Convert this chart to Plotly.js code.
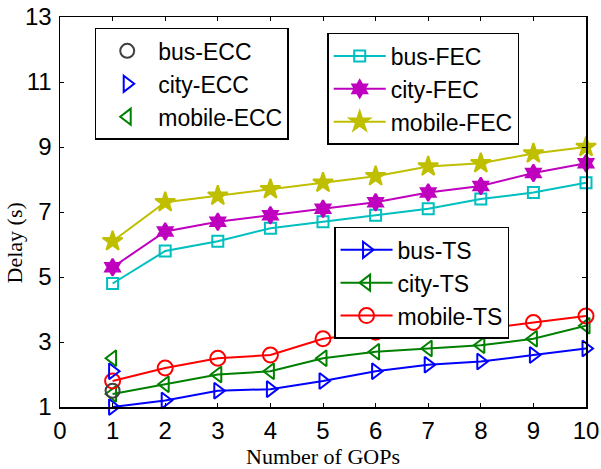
<!DOCTYPE html>
<html>
<head>
<meta charset="utf-8">
<script src="https://cdn.plot.ly/plotly-3.0.1.min.js"></script>
<style>html,body{margin:0;padding:0;background:#fff;}#chart{width:601px;height:469px;}</style>
</head>
<body>
<div id="chart"></div>
<script>
var gops = [1, 2, 3, 4, 5, 6, 7, 8, 9, 10];
var busFEC    = [4.8, 5.8, 6.1, 6.5, 6.7, 6.9, 7.1, 7.4, 7.6, 7.9];
var cityFEC   = [5.3, 6.4, 6.7, 6.9, 7.1, 7.3, 7.6, 7.8, 8.2, 8.5];
var mobileFEC = [6.1, 7.3, 7.5, 7.7, 7.9, 8.1, 8.4, 8.5, 8.8, 9.0];
var busTS     = [1.0, 1.2, 1.5, 1.55, 1.8, 2.1, 2.3, 2.4, 2.6, 2.8];
var cityTS    = [1.4, 1.7, 2.0, 2.1, 2.5, 2.7, 2.8, 2.9, 3.1, 3.5];
var mobileTS  = [1.8, 2.2, 2.5, 2.6, 3.1, 3.3, 3.4, 3.4, 3.6, 3.8];
var eccX      = [1];
var busECC    = [1.5];
var cityECC   = [2.1];
var mobileECC = [2.5];
var yTicks = [1, 3, 5, 7, 9, 11, 13];
var xTicks = [0, 1, 2, 3, 4, 5, 6, 7, 8, 9, 10];

function line(name, y, color, symbol, size, legend) {
  return {
    x: gops, y: y, name: name, type: 'scatter', mode: 'lines+markers',
    legend: legend, cliponaxis: false,
    line: {color: color, width: 2},
    marker: {symbol: symbol, size: size, color: color,
             line: {color: color, width: 2}}
  };
}
function pt(name, y, color, symbol, size) {
  return {
    x: eccX, y: y, name: name, type: 'scatter', mode: 'markers',
    legend: 'legend', cliponaxis: false,
    marker: {symbol: symbol, size: size, color: color,
             line: {color: color, width: 2}}
  };
}

var traces = [
  line('bus-FEC', busFEC, '#00BFBF', 'square-open', 11, 'legend2'),
  line('city-FEC', cityFEC, '#BF00BF', 'hexagram', 13, 'legend2'),
  line('mobile-FEC', mobileFEC, '#BFBF00', 'star', 15, 'legend2'),
  line('bus-TS', busTS, '#0000FF', 'triangle-right-open', 14, 'legend3'),
  line('city-TS', cityTS, '#008000', 'triangle-left-open', 14, 'legend3'),
  line('mobile-TS', mobileTS, '#FF0000', 'circle-open', 15, 'legend3'),
  pt('bus-ECC', busECC, '#404040', 'circle-open', 14),
  pt('city-ECC', cityECC, '#0000FF', 'triangle-right-open', 14),
  pt('mobile-ECC', mobileECC, '#008000', 'triangle-left-open', 14)
];

var legFont = {family: 'Liberation Sans, Arial, sans-serif', size: 23, color: '#000'};
function leg(x, y) {
  return {x: x, y: y, xref: 'paper', yref: 'paper', xanchor: 'left', yanchor: 'top',
          bgcolor: '#fff', bordercolor: '#000', borderwidth: 1.5, font: legFont,
          tracegroupgap: 0, itemwidth: 52};
}

var layout = {
  width: 601, height: 469,
  margin: {l: 60, r: 15, t: 17, b: 62},
  paper_bgcolor: '#fff', plot_bgcolor: '#fff',
  showlegend: true,
  legend: leg(0.066, 0.972),
  legend2: leg(0.508, 0.959),
  legend3: leg(0.521, 0.462),
  xaxis: {
    range: [0, 10], tickvals: xTicks, ticktext: xTicks.map(String),
    ticks: 'inside', ticklen: 4, tickwidth: 1, tickcolor: '#000',
    showline: true, linecolor: '#000', linewidth: 1.5, mirror: 'ticks',
    showgrid: false, zeroline: false,
    tickfont: {family: 'Liberation Sans, Arial, sans-serif', size: 24, color: '#000'},
    ticklabelstandoff: 2,
    title: {text: 'Number of GOPs', standoff: 6,
            font: {family: 'Liberation Serif, Times New Roman, serif', size: 22, color: '#000'}}
  },
  yaxis: {
    range: [1, 13], tickvals: yTicks, ticktext: yTicks.map(String),
    ticks: 'inside', ticklen: 4, tickwidth: 1, tickcolor: '#000',
    showline: true, linecolor: '#000', linewidth: 1.5, mirror: 'ticks',
    showgrid: false, zeroline: false,
    tickfont: {family: 'Liberation Sans, Arial, sans-serif', size: 24, color: '#000'},
    ticklabelstandoff: 2
  },
  annotations: [{
    text: 'Delay (s)', textangle: -90, xref: 'paper', yref: 'paper',
    x: -0.087, y: 0.42, xanchor: 'center', yanchor: 'middle', showarrow: false,
    font: {family: 'Liberation Serif, Times New Roman, serif', size: 22, color: '#000'}
  }]
};

Plotly.newPlot('chart', traces, layout, {displayModeBar: false, staticPlot: true});
</script>
</body>
</html>
